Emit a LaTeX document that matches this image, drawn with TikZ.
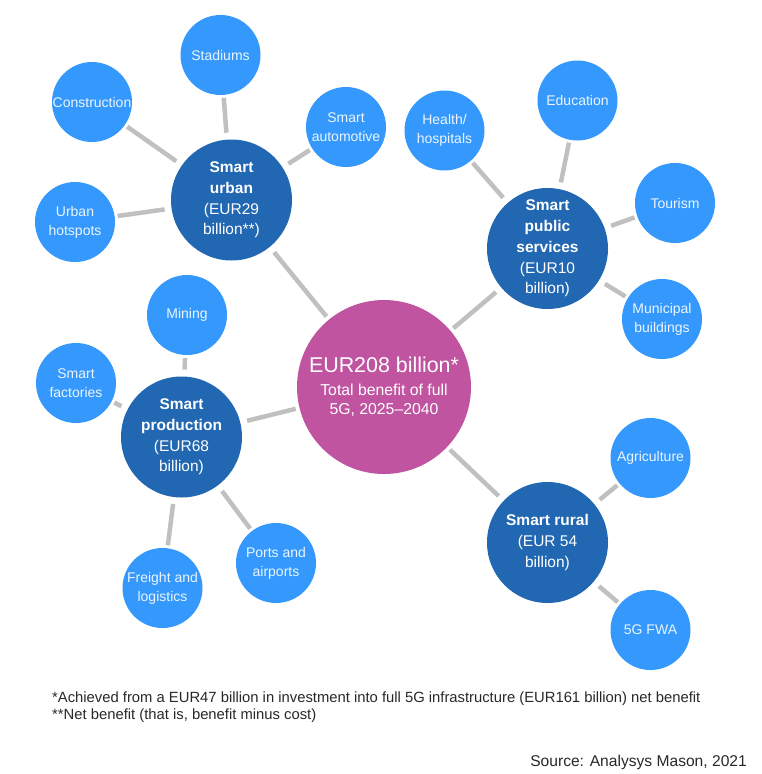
\documentclass[tikz,border=0pt]{standalone}
\usepackage{fontspec}
\setmainfont{Liberation Sans}
\definecolor{leaf}{RGB}{52,152,253}
\definecolor{hub}{RGB}{33,103,177}
\definecolor{core}{RGB}{192,84,160}
\definecolor{link}{RGB}{192,192,192}
\definecolor{leaftext}{RGB}{236,245,255}
\definecolor{note}{RGB}{40,40,40}
\tikzset{
  leafnode/.style={circle, fill=leaf, minimum size=80pt, inner sep=0pt, outer sep=3pt,
    text=leaftext, align=center, font=\fontsize{14}{19}\selectfont},
  hubnode/.style={circle, fill=hub, minimum size=121pt, inner sep=0pt, outer sep=7pt,
    text=white, align=center, font=\fontsize{15.5}{20.7}\selectfont},
  corenode/.style={circle, fill=core, minimum size=174pt, inner sep=0pt, outer sep=4pt,
    text=white, align=center, font=\fontsize{15.8}{19.5}\selectfont},
  linkline/.style={draw=link, line width=4.5pt},
  notetext/.style={text=note, inner sep=0pt}
}
\begin{document}
\begin{tikzpicture}[x=1pt,y=-1pt]
\useasboundingbox (0,0) rectangle (762,774);
% core
\node[corenode] (core) at (384,387) {{\fontsize{21.4}{23}\selectfont EUR208 billion*}\\[3pt]
  Total benefit of full\\5G, 2025--2040};
% hubs
\node[hubnode] (urban) at (231.5,200) {\textbf{Smart}\\\textbf{urban}\\(EUR29\\billion**)};
\node[hubnode] (public) at (547.5,248.5) {\textbf{Smart}\\\textbf{public}\\\textbf{services}\\(EUR10\\billion)};
\node[hubnode] (prod) at (181.5,437) {\textbf{Smart}\\\textbf{production}\\(EUR68\\billion)};
\node[hubnode] (rural) at (547.5,542.5) {\textbf{Smart rural}\\(EUR 54\\billion)};
% leaves
\node[leafnode] (stad) at (220.5,55) {Stadiums};
\node[leafnode] (cons) at (92,102) {Construction};
\node[leafnode] (auto) at (346,127) {Smart\\automotive};
\node[leafnode] (hot) at (75,222) {Urban\\hotspots};
\node[leafnode] (health) at (444.5,130.5) {Health/\\hospitals};
\node[leafnode] (edu) at (577.5,100.5) {Education};
\node[leafnode] (tour) at (675,203) {Tourism};
\node[leafnode] (muni) at (662,319) {Municipal\\buildings};
\node[leafnode] (mining) at (187,315) {Mining};
\node[leafnode] (fact) at (76,383) {Smart\\factories};
\node[leafnode] (freight) at (162.5,588) {Freight and\\logistics};
\node[leafnode] (ports) at (276,563) {Ports and\\airports};
\node[leafnode] (agri) at (650.5,458) {Agriculture};
\node[leafnode] (fwa) at (650.5,630) {5G FWA};
% links
\draw[linkline] (core) -- (urban);
\draw[linkline] (core) -- (public);
\draw[linkline] (core) -- (prod);
\draw[linkline] (core) -- (rural);
\draw[linkline] (urban) -- (stad);
\draw[linkline] (urban) -- (cons);
\draw[linkline] (urban) -- (auto);
\draw[linkline] (urban) -- (hot);
\draw[linkline] (public) -- (health);
\draw[linkline] (public) -- (edu);
\draw[linkline] (public) -- (tour);
\draw[linkline] (public) -- (muni);
\draw[linkline] (prod) -- (mining);
\draw[linkline] (prod) -- (fact);
\draw[linkline] (prod) -- (freight);
\draw[linkline] (prod) -- (ports);
\draw[linkline] (rural) -- (agri);
\draw[linkline] (rural) -- (fwa);
% notes
\node[notetext, anchor=base west, font=\fontsize{14.8}{17}\selectfont] (note1) at (52,702)
  {*Achieved from a EUR47 billion in investment into full 5G infrastructure (EUR161 billion) net benefit};
\node[notetext, anchor=base west, font=\fontsize{14.8}{17}\selectfont] (note2) at (52,719)
  {**Net benefit (that is, benefit minus cost)};
\node[notetext, anchor=base east, font=\fontsize{15.6}{18}\selectfont] (source) at (747,766)
  {Source: Analysys Mason, 2021};
\end{tikzpicture}
\end{document}
